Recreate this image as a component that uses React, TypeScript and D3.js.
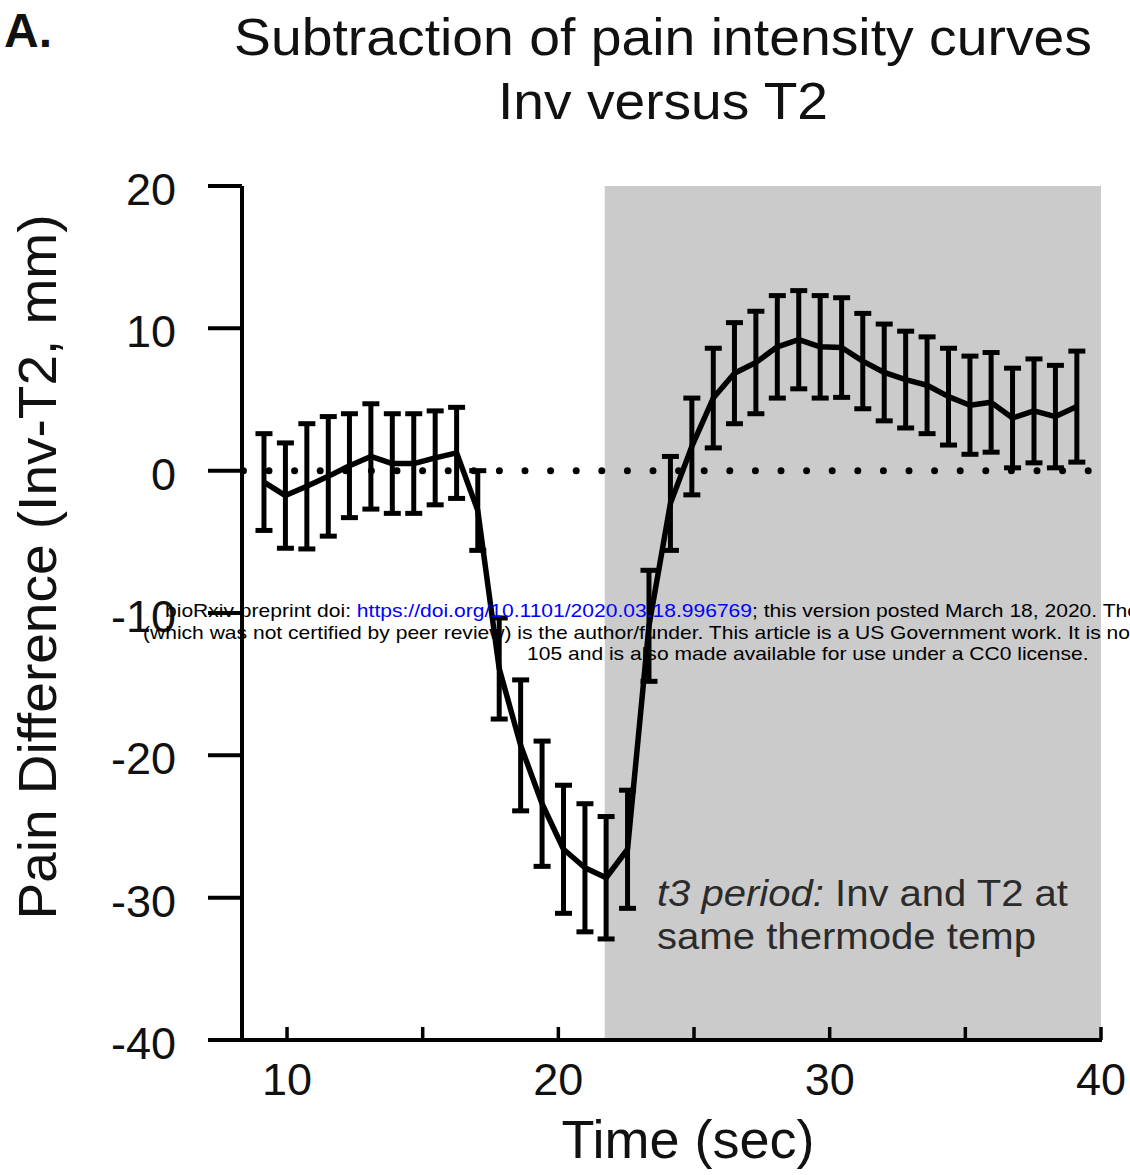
import React from "react";
import * as d3 from "d3";

const times = [9.15, 9.94, 10.73, 11.52, 12.3, 13.09, 13.88, 14.67, 15.46, 16.25, 17.03, 17.82, 18.61, 19.4, 20.19, 20.98, 21.76, 22.55, 23.34, 24.13, 24.92, 25.71, 26.49, 27.28, 28.07, 28.86, 29.65, 30.44, 31.22, 32.01, 32.8, 33.59, 34.38, 35.17, 35.95, 36.74, 37.53, 38.32, 39.11];
const means = [-0.8, -1.75, -1.1, -0.4, 0.35, 1.0, 0.5, 0.5, 0.9, 1.25, -2.8, -13.9, -19.3, -23.4, -26.6, -27.9, -28.6, -26.6, -10.9, -2.3, 1.7, 5.1, 6.85, 7.6, 8.7, 9.2, 8.7, 8.65, 7.7, 6.9, 6.4, 6.0, 5.2, 4.6, 4.8, 3.7, 4.2, 3.8, 4.5];
const sems = [3.4, 3.7, 4.4, 4.2, 3.65, 3.7, 3.5, 3.5, 3.3, 3.2, 2.8, 3.55, 4.6, 4.4, 4.5, 4.5, 4.3, 4.15, 3.9, 3.3, 3.4, 3.5, 3.55, 3.6, 3.6, 3.45, 3.6, 3.5, 3.35, 3.4, 3.4, 3.4, 3.4, 3.45, 3.5, 3.5, 3.65, 3.6, 3.9];

const yTicks = [20, 10, 0, -10, -20, -30, -40];
const xTicks = [10, 20, 30, 40];
const xMinorTicks = [15, 25, 35];
const xDomain = [8.34, 40];
const yDomain = [-40, 20];
const shadeStart = 21.71;
const refLevel = 0;

const titleLines = ["Subtraction of pain intensity curves", "Inv versus T2"];
const panelLabel = "A.";
const xTitle = "Time (sec)";
const yTitle = "Pain Difference (Inv-T2, mm)";
const noteItalic = "t3 period:";
const noteRest = " Inv and T2 at";
const noteLine2 = "same thermode temp";
const wmLine1a = "bioRxiv preprint doi: ";
const wmLine1b = "https://doi.org/10.1101/2020.03.18.996769";
const wmLine1c = "; this version posted March 18, 2020. The copyright holder for this preprint";
const wmLine2 = "(which was not certified by peer review) is the author/funder. This article is a US Government work. It is not subject to copyright under 17 USC";
const wmLine3 = "105 and is also made available for use under a CC0 license.";

const FONT = "'Liberation Sans', Arial, Helvetica, sans-serif";

export default function App() {
  const x = d3.scaleLinear().domain(xDomain).range([242, 1101]);
  const y = d3.scaleLinear().domain(yDomain).range([1040, 186]);
  const pts = times.map((t, i) => ({ t, m: means[i], s: sems[i] }));
  const line = d3
    .line<{ t: number; m: number }>()
    .x((d) => x(d.t))
    .y((d) => y(d.m))
    .curve(d3.curveLinear);
  const capW = 8.5;
  const axLeft = x(xDomain[0]);
  const axRight = x(xDomain[1]);
  const yTop = y(yDomain[1]);
  const yBot = y(yDomain[0]);

  return (
    <svg
      width={1130}
      height={1175}
      style={{ position: "absolute", left: 0, top: 0, background: "#fff" }}
      fontFamily={FONT}
    >
      <rect x={0} y={0} width={1130} height={1175} fill="#fff" />
      {/* shaded t3 period */}
      <rect
        x={x(shadeStart)}
        y={yTop}
        width={axRight - x(shadeStart)}
        height={yBot - yTop}
        fill="#cbcbcb"
      />
      {/* dotted zero line */}
      <line
        x1={axLeft + 1.4}
        x2={1092}
        y1={y(refLevel)}
        y2={y(refLevel)}
        stroke="#000"
        strokeWidth={7}
        strokeLinecap="round"
        strokeDasharray="0 25.6"
      />
      {/* error bars */}
      {pts.map((p, i) => (
        <g key={i} stroke="#000" strokeWidth={5}>
          <line x1={x(p.t)} x2={x(p.t)} y1={y(p.m + p.s)} y2={y(p.m - p.s)} />
          <line x1={x(p.t) - capW} x2={x(p.t) + capW} y1={y(p.m + p.s)} y2={y(p.m + p.s)} />
          <line x1={x(p.t) - capW} x2={x(p.t) + capW} y1={y(p.m - p.s)} y2={y(p.m - p.s)} />
        </g>
      ))}
      {/* mean line */}
      <path d={line(pts) || ""} fill="none" stroke="#000" strokeWidth={5.5} strokeLinejoin="round" />
      {/* axes */}
      <line x1={axLeft} x2={axLeft} y1={yTop} y2={yBot + 2} stroke="#000" strokeWidth={4} />
      <line x1={208} x2={axRight + 1} y1={yBot} y2={yBot} stroke="#000" strokeWidth={4} />
      {yTicks.map((v) => (
        <g key={"yt" + v}>
          <line x1={208} x2={axLeft} y1={y(v)} y2={y(v)} stroke="#000" strokeWidth={4} />
          <text x={176} y={y(v) + 19} textAnchor="end" fontSize={45} fill="#111">
            {v}
          </text>
        </g>
      ))}
      {[...xTicks, ...xMinorTicks].map((v) => (
        <line key={"xt" + v} x1={x(v)} x2={x(v)} y1={yBot} y2={yBot - 13} stroke="#000" strokeWidth={3.5} />
      ))}
      {xTicks.map((v) => (
        <text key={"xl" + v} x={x(v)} y={1095} textAnchor="middle" fontSize={45} fill="#111">
          {v}
        </text>
      ))}
      {/* axis titles */}
      <text x={688} y={1158} textAnchor="middle" fontSize={54} fill="#111">
        {xTitle}
      </text>
      <text
        transform="translate(56,567) rotate(-90)"
        textAnchor="middle"
        fontSize={54}
        fill="#111"
        textLength={705}
        lengthAdjust="spacingAndGlyphs"
      >
        {yTitle}
      </text>
      {/* titles */}
      <text x={4} y={47} fontSize={48} fontWeight="bold" fill="#111">
        {panelLabel}
      </text>
      <text x={663} y={55} textAnchor="middle" fontSize={52} fill="#111" textLength={858} lengthAdjust="spacingAndGlyphs">
        {titleLines[0]}
      </text>
      <text x={663} y={119} textAnchor="middle" fontSize={52} fill="#111" textLength={330} lengthAdjust="spacingAndGlyphs">
        {titleLines[1]}
      </text>
      {/* annotation */}
      <text x={657} y={906} fontSize={37} fill="#2b2b2b" textLength={411} lengthAdjust="spacingAndGlyphs">
        <tspan fontStyle="italic">{noteItalic}</tspan>
        <tspan>{noteRest}</tspan>
      </text>
      <text x={657} y={949} fontSize={37} fill="#2b2b2b" textLength={379} lengthAdjust="spacingAndGlyphs">
        {noteLine2}
      </text>
      {/* watermark */}
      <g fontSize={18} fill="#000">
        <text transform="translate(165,617) scale(1.17,1)">
          <tspan>{wmLine1a}</tspan>
          <tspan fill="#0000ff">{wmLine1b}</tspan>
          <tspan>{wmLine1c}</tspan>
        </text>
        <text transform="translate(143,638.5) scale(1.17,1)">{wmLine2}</text>
        <text transform="translate(527,660) scale(1.17,1)">{wmLine3}</text>
      </g>
    </svg>
  );
}
